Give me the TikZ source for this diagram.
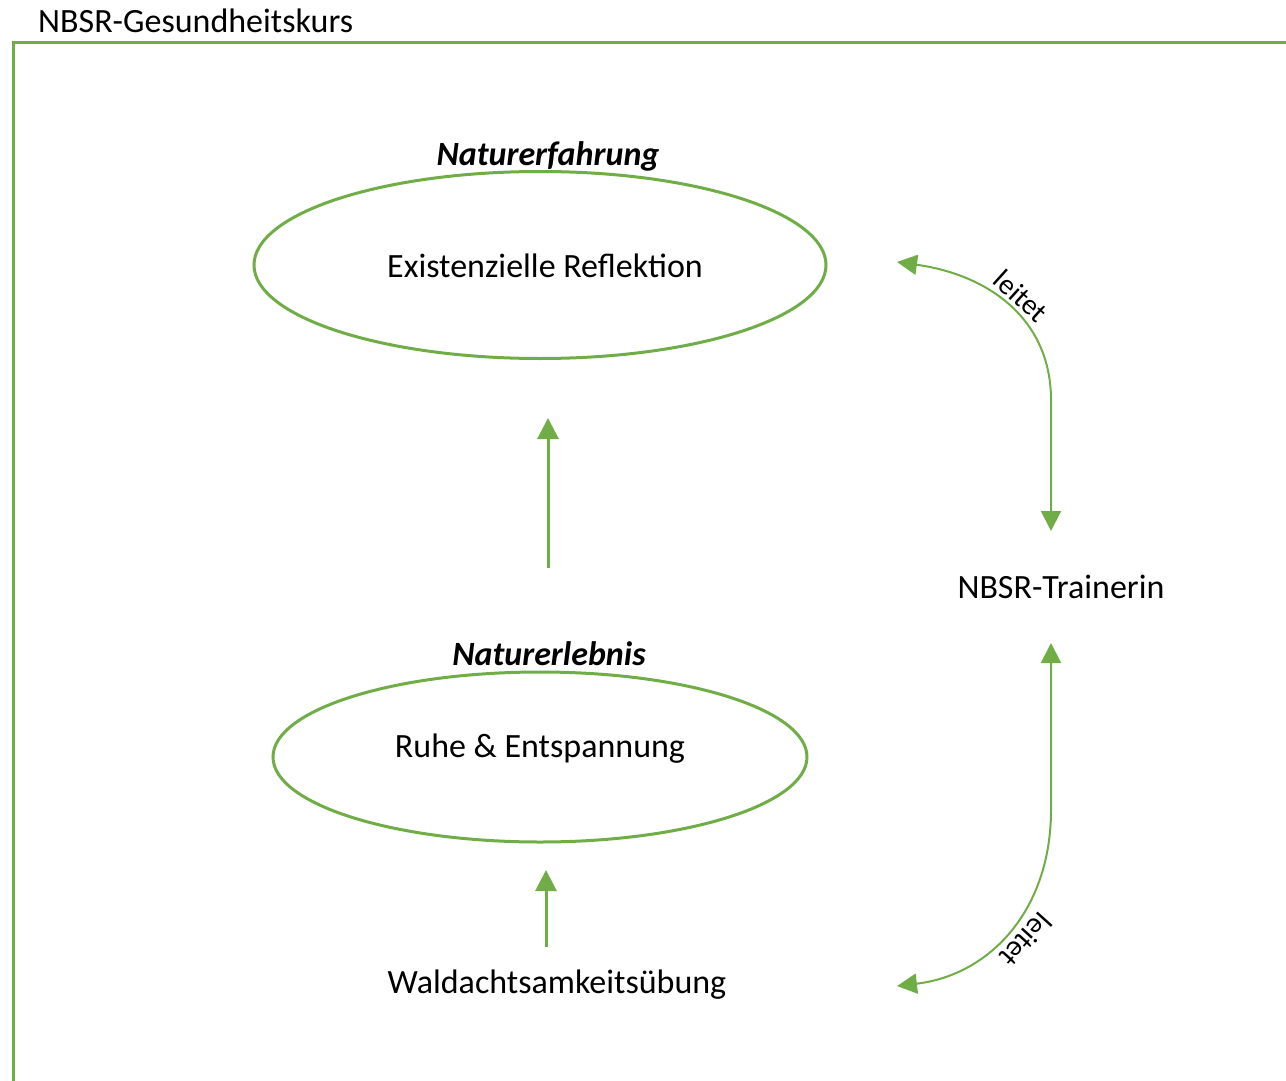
\documentclass[tikz,border=0pt]{standalone}
\usepackage{fontspec}
\setmainfont{Carlito}
\usetikzlibrary{arrows.meta,shapes.geometric}
\definecolor{ogreen}{HTML}{70AD47}
\tikzset{
  txt/.style={font=\fontsize{34}{40}\selectfont, inner sep=0pt},
  ttl/.style={font=\fontsize{34}{40}\selectfont\bfseries\itshape, inner sep=0pt},
  lbl/.style={font=\fontsize{29}{34}\selectfont, inner sep=0pt},
  ell/.style={draw=ogreen, line width=3pt, ellipse, minimum width=#1},
  uparrow/.style={draw=ogreen, line width=3pt, -{Triangle[length=21pt,width=21pt]}},
  curvarrow/.style={draw=ogreen, line width=2pt, {Triangle[length=20pt,width=20pt]}-{Triangle[length=20pt,width=20pt]}}
}
\begin{document}
\begin{tikzpicture}[x=1pt,y=-1pt]
\useasboundingbox (0,0) rectangle (1286,1081);
% frame
\node[txt, anchor=west] (title) at (38,21) {NBSR-Gesundheitskurs};
\draw[ogreen, line width=3pt] (13,1090) -- (13,43) -- (1295,43);
% ellipses
\node[ell=572pt, minimum height=187pt] (e1) at (540,265) {};
\node[txt] (t1) at (545,266) {Existenzielle Reflektion};
\node[ttl] (h1) at (548,156) {Naturerfahrung};
\node[ell=534pt, minimum height=170pt] (e2) at (540,757) {};
\node[txt] (t2) at (540,749) {Ruhe \& Entspannung};
\node[ttl] (h2) at (549,654) {Naturerlebnis};
\node[txt] (wald) at (557,985) {Waldachtsamkeitsübung};
\node[txt] (trainer) at (1061,587) {NBSR-Trainerin};
% straight arrows
\coordinate (a1s) at (548,568);
\coordinate (a1e) at (548,418);
\draw[uparrow] (a1s) -- (a1e);
\coordinate (a2s) at (546,947);
\coordinate (a2e) at (546,870);
\draw[uparrow] (a2s) -- (a2e);
% curved arrows
\coordinate (c1a) at (897,262);
\coordinate (c1b) at (1051,531);
\draw[curvarrow] (c1a) .. controls (990,275) and (1051,320) .. (1051,400) -- (c1b);
\node[lbl, rotate=-42] (l1) at (1021,296) {leitet};
\coordinate (c2a) at (1051,643);
\coordinate (c2b) at (897,986);
\draw[curvarrow] (c2a) -- (1051,810) .. controls (1051,910) and (990,975) .. (c2b);
\node[lbl, rotate=-132] (l2) at (1026,940) {leitet};
\end{tikzpicture}
\end{document}
